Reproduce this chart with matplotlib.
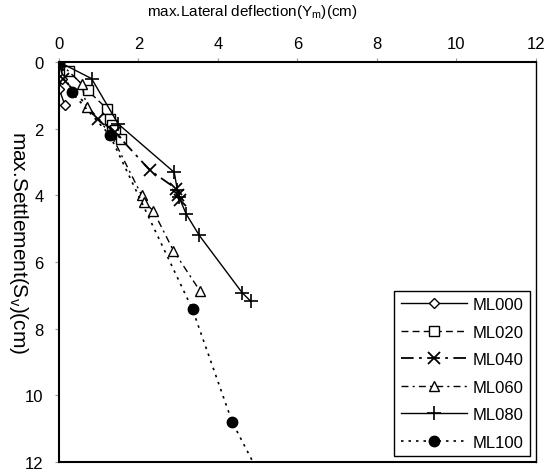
import matplotlib
matplotlib.use("Agg")
import matplotlib.pyplot as plt

plt.rcParams['font.family'] = ['Liberation Sans', 'DejaVu Sans']

# max. lateral deflection (cm) vs max. settlement (cm)
ml000_x = [0, 0.05, 0.07, 0.0, 0.15]
ml000_y = [0, 0.3, 0.5, 0.8, 1.3]

ml020_x = [0, 0.24, 0.72, 1.22, 1.28, 1.33, 1.4, 1.56]
ml020_y = [0, 0.26, 0.85, 1.42, 1.7, 1.9, 2.05, 2.31]

ml040_x = [0, 0.11, 0.99, 1.4, 2.29, 2.95, 3.0, 3.05]
ml040_y = [0, 0.5, 1.71, 2.1, 3.25, 3.8, 4.0, 4.15]

ml060_x = [0, 0.57, 0.7, 1.3, 2.08, 2.14, 2.37, 2.88, 3.55]
ml060_y = [0, 0.66, 1.36, 2.15, 4.0, 4.2, 4.46, 5.66, 6.87]

ml080_x = [0, 0.82, 1.49, 2.9, 2.98, 3.02, 3.2, 3.53, 4.61, 4.82]
ml080_y = [0, 0.5, 1.86, 3.31, 3.85, 4.05, 4.56, 5.2, 6.92, 7.17]

ml100_x = [0, 0.32, 1.28, 3.36, 4.36, 5.1]
ml100_y = [0, 0.91, 2.2, 7.42, 10.8, 12.5]

ticks = [0, 2, 4, 6, 8, 10, 12]

fig = plt.figure(figsize=(5.49, 4.77), dpi=100)
ax = fig.add_axes([0.1075, 0.029, 0.8685, 0.839])

ax.plot(ml000_x, ml000_y, '-', color='k', lw=1.0, marker='D', ms=5.5,
        mfc='white', mec='k', label='ML000')
ax.plot(ml020_x, ml020_y, color='k', lw=1.0, dashes=(5, 3), marker='s', ms=7.5,
        mfc='white', mec='k', label='ML020')
ax.plot(ml040_x, ml040_y, color='k', lw=1.3, dashes=(7, 3, 1.5, 3), marker='x', ms=8,
        mew=1.3, label='ML040')
ax.plot(ml060_x, ml060_y, color='k', lw=1.0, dashes=(5, 3, 1.5, 3), marker='^', ms=7.5,
        mfc='white', mec='k', label='ML060')
ax.plot(ml080_x, ml080_y, '-', color='k', lw=1.0, marker='+', ms=10, mew=1.2,
        label='ML080')
ax.plot(ml100_x, ml100_y, color='k', lw=1.2, dashes=(1.5, 3), marker='o', ms=7.5,
        mfc='k', mec='k', label='ML100')

ax.set_xlim(0, 12)
ax.set_ylim(12, 0)
ax.set_xticks(ticks)
ax.set_yticks(ticks)
ax.xaxis.tick_top()
ax.tick_params(axis='both', labelsize=12, length=3, width=0.8, color='#999999')
ax.tick_params(axis='x', pad=5)
ax.tick_params(axis='y', pad=8)

fig.text(252 / 549, 1 - 12 / 477, 'max.Lateral deflection(Y$_\\mathregular{m}$)(cm)',
         fontsize=11, ha='center', va='center')
fig.text(18 / 549, 1 - 243 / 477, 'max.Settlement(S$_\\mathregular{v}$)(cm)',
         fontsize=15, ha='center', va='center', rotation=-90)

for side in ['top', 'left', 'bottom']:
    ax.spines[side].set_linewidth(1.5)
ax.spines['right'].set_linewidth(1.0)

leg = ax.legend(loc='lower right', fontsize=12, handlelength=4.0, labelspacing=0.75,
                borderaxespad=0.35, fancybox=False, framealpha=1, edgecolor='k',
                borderpad=0.4, handletextpad=0.3)
leg.get_frame().set_linewidth(1.0)

fig.savefig('out.png', dpi=100)
